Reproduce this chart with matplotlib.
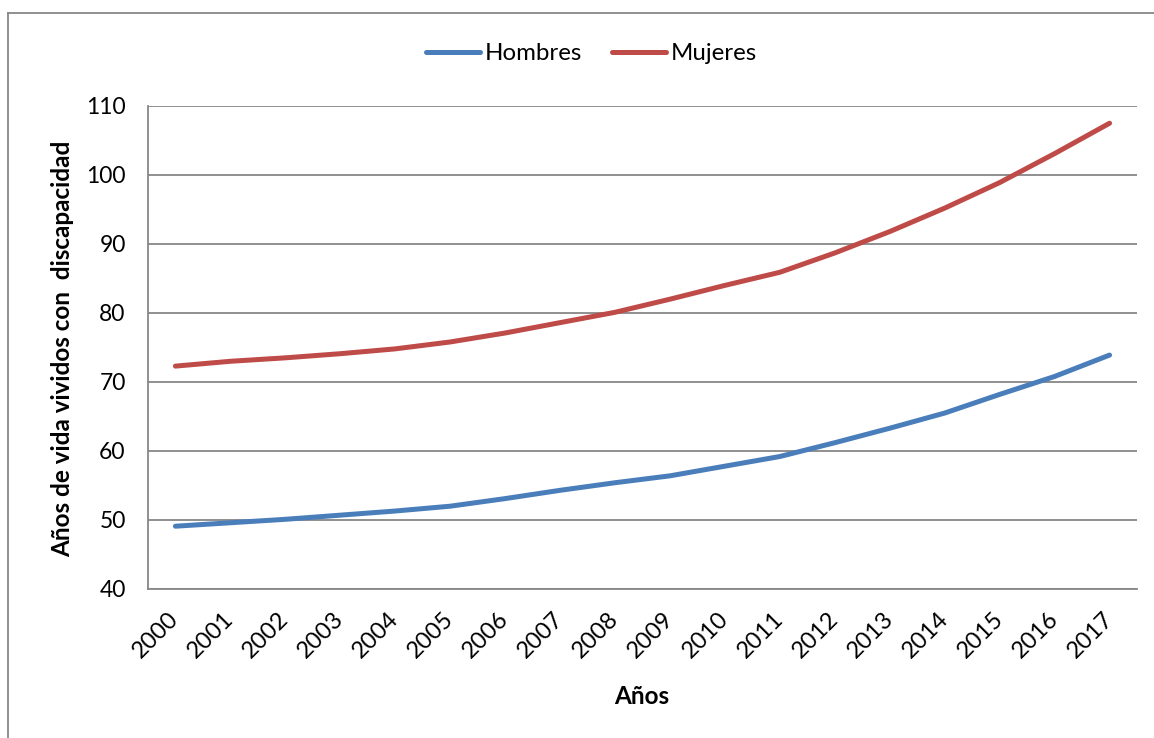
import matplotlib
matplotlib.use("Agg")
import matplotlib.pyplot as plt
from matplotlib.lines import Line2D

plt.rcParams['font.family'] = ['Lato', 'DejaVu Sans']

years = [str(y) for y in range(2000, 2018)]
hombres = [49.1, 49.6, 50.1, 50.7, 51.3, 52.0, 53.1, 54.3, 55.4, 56.4,
           57.8, 59.2, 61.2, 63.3, 65.5, 68.2, 70.8, 73.9]
mujeres = [72.3, 73.0, 73.5, 74.1, 74.8, 75.8, 77.1, 78.6, 80.1, 82.0,
           84.0, 85.9, 88.7, 91.8, 95.2, 98.9, 103.1, 107.5]
y_ticks = [40, 50, 60, 70, 80, 90, 100, 110]

blue = '#4A7EBB'
red = '#BE4B48'
grid_gray = '#878787'

fig = plt.figure(figsize=(11.54, 7.38), dpi=100)
ax = fig.add_axes([0.1282, 0.2019, 0.8571, 0.6545])

x = list(range(len(years)))
ax.plot(x, hombres, color=blue, lw=3.6, solid_capstyle='round', label='Hombres')
ax.plot(x, mujeres, color=red, lw=3.6, solid_capstyle='round', label='Mujeres')

ax.set_xlim(-0.5, len(years) - 0.5)
ax.set_ylim(40, 110)
ax.set_yticks(y_ticks)
ax.set_xticks(x)
ax.set_xticklabels(years, rotation=45, ha='right', va='center',
                   rotation_mode='anchor', fontsize=17)
ax.tick_params(axis='y', length=0, labelsize=16.5, pad=16)
ax.tick_params(axis='x', length=0, pad=19)

ax.grid(axis='y', color=grid_gray, lw=1.3)
ax.set_axisbelow(True)
for s in ('top', 'right'):
    ax.spines[s].set_visible(False)
for s in ('left', 'bottom'):
    ax.spines[s].set_color(grid_gray)
    ax.spines[s].set_linewidth(1.3)

fig.text(0.0545, 0.527, 'Años de vida vividos con  discapacidad', rotation=90,
         ha='center', va='center', fontsize=17.5, fontweight='bold')
fig.text(0.556, 0.056, 'Años', ha='center', va='center', fontsize=17.5,
         fontweight='bold')

handles = [Line2D([], [], color=blue, lw=3.6, solid_capstyle='round'),
           Line2D([], [], color=red, lw=3.6, solid_capstyle='round')]
fig.legend(handles, ['Hombres', 'Mujeres'], loc='center', ncol=2,
           bbox_to_anchor=(0.5126, 0.927), frameon=False, fontsize=17.3,
           handlelength=2.25, handletextpad=0.2, columnspacing=1.25)

# chart area border (left and top edges)
fig.add_artist(Line2D([0.0072, 0.0072], [0.0, 0.9825], color=grid_gray, lw=1.3,
                      transform=fig.transFigure))
fig.add_artist(Line2D([0.0072, 1.0], [0.9825, 0.9825], color=grid_gray, lw=1.3,
                      transform=fig.transFigure))

fig.savefig('out.png', dpi=100)
